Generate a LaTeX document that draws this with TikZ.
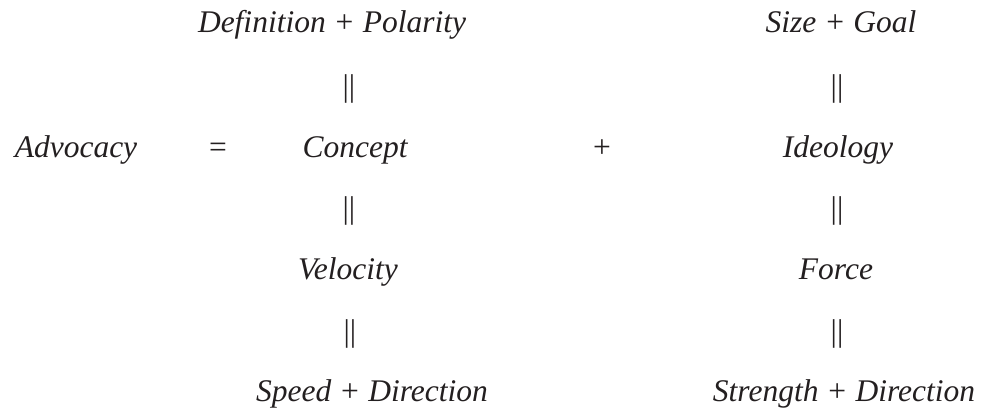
\documentclass[tikz,border=0pt]{standalone}
\usepackage{fontspec}
\setmainfont{Liberation Serif}
\definecolor{ink}{HTML}{231F20}
\begin{document}
\begin{tikzpicture}[x=1pt,y=-1pt,
  term/.style={anchor=base,inner sep=0pt,text=ink,font=\fontsize{31.5}{36}\selectfont\itshape},
  sym/.style={anchor=base,inner sep=0pt,text=ink,font=\fontsize{31.5}{36}\selectfont\upshape}]
\useasboundingbox (0,0) rectangle (984,409);
% left column
\node[term] (defpol) at (332,33) {Definition + Polarity};
\node[sym]  (eqA)    at (349,96) {||};
\node[term] (adv)    at (76,157) {Advocacy};
\node[sym]  (eq)     at (218,157) {=};
\node[term] (concept) at (355,157) {Concept};
\node[sym]  (plus)   at (602,157) {+};
\node[sym]  (eqB)    at (349,218) {||};
\node[term] (vel)    at (348,279) {Velocity};
\node[sym]  (eqC)    at (350,341) {||};
\node[term] (spdir)  at (372,401) {Speed + Direction};
% right column
\node[term] (sizegoal) at (841,33) {Size + Goal};
\node[sym]  (eqD)    at (837,96) {||};
\node[term] (ideo)   at (838,157) {Ideology};
\node[sym]  (eqE)    at (837,218) {||};
\node[term] (force)  at (836,279) {Force};
\node[sym]  (eqF)    at (837,341) {||};
\node[term] (strdir) at (844,401) {Strength + Direction};
\end{tikzpicture}
\end{document}
